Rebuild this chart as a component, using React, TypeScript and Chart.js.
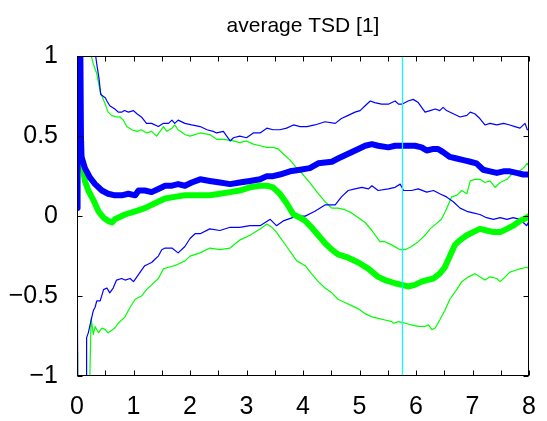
import React, { useEffect, useRef } from 'react';
import { Chart, registerables } from 'chart.js';
Chart.register(...registerables);

const TITLE = 'average TSD [1]';
const FONT = '"Liberation Sans", Arial, Helvetica, sans-serif';
const xRange = [0, 8];
const yRange = [-1, 1];
const minorStep = 0.5;
const cursorX = 5.76;

type P = [number, number];

const meanBlue: P[] = [[0,0.05],[0.01,1.5],[0.03,0.6],[0.05,1.5],[0.07,0.5],[0.08,0.37],[0.14,0.30],[0.23,0.24],[0.32,0.20],[0.44,0.16],[0.55,0.14],[0.67,0.13],[0.79,0.13],[0.91,0.14],[1.03,0.13],[1.09,0.16],[1.2,0.16],[1.32,0.15],[1.44,0.17],[1.56,0.19],[1.68,0.19],[1.79,0.20],[1.91,0.19],[2.03,0.21],[2.18,0.23],[2.35,0.22],[2.53,0.21],[2.71,0.20],[2.88,0.21],[3.06,0.22],[3.24,0.23],[3.36,0.25],[3.47,0.25],[3.59,0.26],[3.77,0.28],[3.95,0.29],[4.12,0.30],[4.27,0.33],[4.51,0.34],[4.62,0.36],[4.80,0.39],[4.98,0.42],[5.10,0.44],[5.22,0.45],[5.33,0.44],[5.51,0.43],[5.63,0.44],[5.75,0.44],[5.86,0.44],[5.98,0.44],[6.10,0.43],[6.19,0.41],[6.31,0.42],[6.39,0.42],[6.48,0.40],[6.60,0.37],[6.72,0.36],[6.84,0.35],[6.96,0.34],[7.07,0.33],[7.19,0.29],[7.31,0.28],[7.43,0.27],[7.55,0.28],[7.66,0.28],[7.78,0.27],[7.90,0.26],[8.0,0.26]];

const meanGreen: P[] = [[0.06,0.45],[0.08,0.35],[0.14,0.22],[0.2,0.16],[0.29,0.10],[0.38,0.03],[0.47,-0.01],[0.55,-0.03],[0.62,-0.04],[0.67,-0.02],[0.85,0.01],[1.03,0.03],[1.2,0.05],[1.38,0.08],[1.56,0.11],[1.73,0.12],[1.91,0.13],[2.18,0.13],[2.35,0.13],[2.53,0.14],[2.71,0.15],[2.88,0.16],[3.06,0.18],[3.24,0.19],[3.36,0.19],[3.47,0.18],[3.59,0.14],[3.71,0.08],[3.83,0.01],[3.95,-0.01],[4.04,-0.03],[4.15,-0.07],[4.27,-0.12],[4.39,-0.17],[4.51,-0.21],[4.62,-0.24],[4.80,-0.26],[4.98,-0.29],[5.16,-0.33],[5.33,-0.38],[5.45,-0.40],[5.63,-0.42],[5.75,-0.43],[5.86,-0.44],[5.98,-0.43],[6.10,-0.41],[6.19,-0.40],[6.31,-0.39],[6.42,-0.36],[6.51,-0.32],[6.60,-0.25],[6.69,-0.18],[6.78,-0.15],[6.90,-0.12],[7.01,-0.10],[7.13,-0.08],[7.25,-0.09],[7.37,-0.10],[7.49,-0.10],[7.61,-0.08],[7.72,-0.06],[7.84,-0.03],[7.96,-0.01],[8.0,0.0]];

const upperBlue: P[] = [[0.02,1.6],[0.22,1.6],[0.3,1.12],[0.32,1.03],[0.35,0.95],[0.39,0.86],[0.42,0.76],[0.50,0.74],[0.53,0.72],[0.58,0.69],[0.67,0.67],[0.73,0.65],[0.79,0.65],[0.84,0.66],[0.91,0.65],[1.0,0.66],[1.06,0.64],[1.14,0.62],[1.23,0.58],[1.32,0.58],[1.44,0.56],[1.53,0.58],[1.62,0.58],[1.68,0.60],[1.73,0.58],[1.79,0.60],[1.91,0.58],[2.03,0.57],[2.18,0.56],[2.30,0.54],[2.41,0.53],[2.47,0.52],[2.59,0.53],[2.71,0.47],[2.77,0.49],[2.88,0.50],[3.0,0.49],[3.12,0.52],[3.24,0.52],[3.36,0.55],[3.47,0.54],[3.59,0.54],[3.71,0.55],[3.83,0.57],[3.95,0.56],[4.07,0.56],[4.21,0.57],[4.39,0.59],[4.57,0.58],[4.68,0.61],[4.80,0.63],[4.92,0.65],[5.01,0.66],[5.10,0.69],[5.19,0.72],[5.27,0.71],[5.39,0.70],[5.51,0.70],[5.63,0.72],[5.69,0.70],[5.75,0.70],[5.86,0.72],[5.95,0.73],[6.04,0.71],[6.10,0.68],[6.16,0.65],[6.25,0.66],[6.34,0.67],[6.42,0.66],[6.48,0.68],[6.54,0.66],[6.66,0.64],[6.78,0.62],[6.90,0.63],[6.96,0.65],[7.04,0.64],[7.13,0.61],[7.22,0.57],[7.31,0.58],[7.43,0.57],[7.55,0.58],[7.66,0.57],[7.75,0.56],[7.84,0.55],[7.93,0.58],[7.97,0.54],[8.0,0.54]];

const upperGreen: P[] = [[0.02,1.6],[0.18,1.6],[0.23,1.03],[0.29,0.95],[0.35,0.89],[0.41,0.78],[0.50,0.70],[0.55,0.65],[0.61,0.63],[0.70,0.62],[0.76,0.62],[0.82,0.60],[0.88,0.56],[0.97,0.54],[1.06,0.53],[1.14,0.54],[1.23,0.52],[1.32,0.53],[1.41,0.50],[1.47,0.53],[1.53,0.56],[1.59,0.53],[1.68,0.55],[1.73,0.57],[1.79,0.54],[1.91,0.51],[2.0,0.50],[2.18,0.52],[2.35,0.51],[2.47,0.48],[2.59,0.48],[2.77,0.47],[2.88,0.46],[3.0,0.47],[3.12,0.45],[3.24,0.44],[3.36,0.43],[3.47,0.43],[3.56,0.42],[3.65,0.39],[3.77,0.35],[3.89,0.30],[4.0,0.26],[4.12,0.21],[4.27,0.14],[4.39,0.09],[4.51,0.05],[4.62,0.05],[4.74,0.04],[4.86,0.02],[4.98,-0.01],[5.10,-0.04],[5.22,-0.09],[5.30,-0.13],[5.36,-0.16],[5.45,-0.16],[5.57,-0.18],[5.72,-0.21],[5.81,-0.21],[5.92,-0.19],[6.04,-0.16],[6.16,-0.12],[6.25,-0.08],[6.35,-0.05],[6.45,-0.02],[6.52,0.03],[6.57,0.07],[6.63,0.12],[6.72,0.13],[6.81,0.16],[6.90,0.14],[6.96,0.22],[7.04,0.23],[7.13,0.23],[7.22,0.21],[7.31,0.22],[7.40,0.18],[7.49,0.21],[7.61,0.23],[7.69,0.26],[7.78,0.27],[7.90,0.30],[7.97,0.33],[8.0,0.31]];

const lowerBlue: P[] = [[0.0,0.05],[0.02,-1.6],[0.16,-1.6],[0.17,-0.76],[0.2,-0.73],[0.25,-0.65],[0.29,-0.59],[0.32,-0.57],[0.35,-0.53],[0.41,-0.53],[0.47,-0.46],[0.53,-0.45],[0.58,-0.48],[0.64,-0.45],[0.70,-0.40],[0.79,-0.39],[0.85,-0.40],[0.94,-0.39],[1.0,-0.41],[1.06,-0.38],[1.14,-0.34],[1.2,-0.31],[1.32,-0.29],[1.38,-0.27],[1.44,-0.25],[1.5,-0.21],[1.56,-0.20],[1.68,-0.20],[1.79,-0.23],[1.91,-0.19],[2.0,-0.14],[2.09,-0.11],[2.18,-0.11],[2.35,-0.08],[2.53,-0.09],[2.71,-0.07],[2.88,-0.07],[3.06,-0.06],[3.24,-0.06],[3.42,-0.02],[3.53,-0.06],[3.65,-0.03],[3.89,0.0],[4.04,0.0],[4.21,0.03],[4.39,0.07],[4.57,0.07],[4.68,0.12],[4.80,0.16],[4.92,0.17],[5.04,0.18],[5.16,0.17],[5.22,0.19],[5.33,0.16],[5.51,0.17],[5.63,0.18],[5.72,0.20],[5.78,0.16],[5.92,0.16],[6.04,0.17],[6.19,0.15],[6.31,0.16],[6.42,0.14],[6.54,0.12],[6.66,0.09],[6.78,0.05],[6.90,0.03],[7.01,0.02],[7.13,0.01],[7.25,-0.01],[7.37,-0.02],[7.49,-0.01],[7.61,-0.02],[7.72,-0.01],[7.84,-0.02],[7.90,-0.04],[7.96,-0.06],[8.0,-0.03]];

const lowerGreen: P[] = [[0.0,-0.85],[0.01,-1.6],[0.19,-1.6],[0.25,-0.64],[0.29,-0.74],[0.32,-0.69],[0.38,-0.73],[0.44,-0.70],[0.50,-0.71],[0.55,-0.73],[0.67,-0.70],[0.73,-0.67],[0.85,-0.63],[0.94,-0.57],[1.03,-0.52],[1.14,-0.50],[1.23,-0.46],[1.32,-0.43],[1.44,-0.39],[1.53,-0.33],[1.62,-0.32],[1.73,-0.31],[1.91,-0.28],[2.0,-0.25],[2.18,-0.23],[2.35,-0.20],[2.53,-0.21],[2.71,-0.20],[2.88,-0.15],[3.06,-0.12],[3.24,-0.08],[3.36,-0.05],[3.45,-0.07],[3.53,-0.10],[3.71,-0.19],[3.89,-0.28],[4.04,-0.31],[4.15,-0.36],[4.27,-0.41],[4.39,-0.45],[4.51,-0.48],[4.62,-0.52],[4.74,-0.54],[4.86,-0.56],[4.98,-0.58],[5.10,-0.61],[5.22,-0.63],[5.33,-0.64],[5.45,-0.65],[5.57,-0.66],[5.60,-0.67],[5.69,-0.66],[5.81,-0.67],[5.92,-0.68],[6.04,-0.69],[6.16,-0.69],[6.22,-0.68],[6.28,-0.71],[6.34,-0.70],[6.42,-0.65],[6.51,-0.59],[6.60,-0.52],[6.72,-0.46],[6.81,-0.41],[6.93,-0.38],[7.04,-0.36],[7.13,-0.38],[7.22,-0.40],[7.31,-0.38],[7.43,-0.39],[7.49,-0.41],[7.58,-0.38],[7.66,-0.35],[7.75,-0.34],[7.84,-0.33],[7.96,-0.32],[8.0,-0.33]];

const toPts = (a: P[]) => a.map(([x, y]) => ({ x, y }));

const framePlugin = {
  id: 'matlabFrame',
  afterDatasetsDraw(chart: any) {
    const { ctx, chartArea: a, scales } = chart;
    const L = Math.round(a.left) + 0.5;
    const R = Math.round(a.right) - 0.5;
    const T = Math.round(a.top) + 0.5;
    const B = Math.round(a.bottom) - 0.5;
    ctx.save();
    ctx.strokeStyle = '#000';
    ctx.lineWidth = 1;
    ctx.strokeRect(L, T, R - L, B - T);
    ctx.beginPath();
    const tl = 5;
    for (let v = xRange[0]; v <= xRange[1] + 1e-9; v += minorStep) {
      const px = Math.round(scales.x.getPixelForValue(v)) + 0.5;
      ctx.moveTo(px, B); ctx.lineTo(px, B - tl);
      ctx.moveTo(px, T); ctx.lineTo(px, T + tl);
    }
    for (let v = yRange[0]; v <= yRange[1] + 1e-9; v += minorStep) {
      const py = Math.round(scales.y.getPixelForValue(v)) + 0.5;
      ctx.moveTo(L, py); ctx.lineTo(L + tl, py);
      ctx.moveTo(R, py); ctx.lineTo(R - tl, py);
    }
    ctx.stroke();
    ctx.restore();
  },
};

export default function App() {
  const ref = useRef<HTMLCanvasElement>(null);
  useEffect(() => {
    document.body.style.margin = '0';
    const thin = (d: P[], color: string, order: number) => ({
      data: toPts(d), borderColor: color, borderWidth: 1.2, order, clip: 0,
    });
    const chart = new Chart(ref.current!, {
      type: 'line',
      data: {
        datasets: [
          { data: [{ x: cursorX, y: yRange[0] }, { x: cursorX, y: yRange[1] }], borderColor: '#00ffff', borderWidth: 1.2, order: 0, clip: 0 },
          { data: toPts(meanBlue), borderColor: '#0000ff', borderWidth: 6, order: 1, clip: 0 },
          { data: toPts(meanGreen), borderColor: '#00ff00', borderWidth: 6, order: 2, clip: 0 },
          thin(upperBlue, '#0000ff', 3),
          thin(lowerBlue, '#0000ff', 4),
          thin(upperGreen, '#00ff00', 5),
          thin(lowerGreen, '#00ff00', 6),
        ] as any,
      },
      options: {
        responsive: false,
        animation: false,
        devicePixelRatio: 1,
        layout: { padding: { left: 0, right: 18, top: 0, bottom: 0 } },
        elements: {
          point: { radius: 0 },
          line: { tension: 0, borderJoinStyle: 'round', borderCapStyle: 'round' },
        },
        plugins: {
          legend: { display: false },
          tooltip: { enabled: false },
          title: {
            display: true,
            text: TITLE,
            fullSize: false,
            color: '#000',
            font: { family: FONT, size: 21, weight: 'normal' },
            padding: { top: 14, bottom: 17 },
          },
        },
        scales: {
          x: {
            type: 'linear',
            min: xRange[0],
            max: xRange[1],
            grid: { display: false },
            border: { display: false },
            ticks: {
              stepSize: 1,
              color: '#000',
              font: { family: FONT, size: 25 },
              padding: 8,
              maxRotation: 0,
              callback: (v: any) => String(v),
            },
            afterFit: (s: any) => { s.height = 45; },
          },
          y: {
            type: 'linear',
            min: yRange[0],
            max: yRange[1],
            grid: { display: false },
            border: { display: false },
            ticks: {
              stepSize: 0.5,
              color: '#000',
              font: { family: FONT, size: 25 },
              padding: 11,
              callback: (v: any) => (v < 0 ? '\u2212' + String(Math.abs(v)) : String(v)),
            },
            afterFit: (s: any) => { s.width = 77; },
          },
        },
      } as any,
      plugins: [framePlugin],
    });
    return () => chart.destroy();
  }, []);
  return (
    <div style={{ position: 'absolute', left: 0, top: 0, width: 547, height: 421, background: '#fff' }}>
      <canvas ref={ref} width={547} height={421} />
    </div>
  );
}
